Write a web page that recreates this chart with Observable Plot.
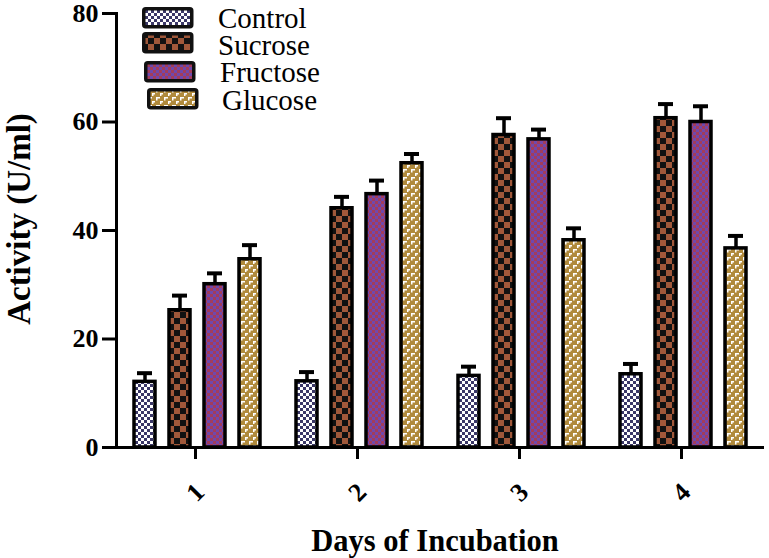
<!DOCTYPE html>
<html>
<head>
<meta charset="utf-8">
<script src="https://cdn.jsdelivr.net/npm/d3@7"></script>
<script src="https://cdn.jsdelivr.net/npm/@observablehq/plot@0.6"></script>
<style>
  html, body { margin: 0; padding: 0; background: #fff; }
  #wrap { position: relative; width: 769px; height: 558px; overflow: hidden; }
</style>
</head>
<body>
<svg width="0" height="0" style="position:absolute">
  <defs>
    <pattern id="pControl" patternUnits="userSpaceOnUse" width="6" height="6">
      <rect width="6" height="6" fill="#ffffff"/>
      <rect x="0" y="0" width="3" height="3" fill="#3b3868"/>
      <rect x="3" y="3" width="3" height="3" fill="#3b3868"/>
    </pattern>
    <pattern id="pSucrose" patternUnits="userSpaceOnUse" width="12" height="12">
      <rect width="12" height="12" fill="#111111"/>
      <rect x="6" y="0" width="6" height="6" fill="#a0583a"/>
      <rect x="0" y="6" width="6" height="6" fill="#a0583a"/>
    </pattern>
    <pattern id="pFructose" patternUnits="userSpaceOnUse" width="6" height="6">
      <rect width="6" height="6" fill="#7048ac"/>
      <rect x="0" y="0" width="3" height="3" fill="#a23c5c"/>
      <rect x="3" y="3" width="3" height="3" fill="#a23c5c"/>
    </pattern>
    <pattern id="pGlucose" patternUnits="userSpaceOnUse" width="8" height="8">
      <rect width="8" height="8" fill="#b08a3c"/>
      <rect x="1" y="1" width="4" height="1.5" fill="#ffffff"/>
      <rect x="1" y="1" width="1.5" height="3.5" fill="#ffffff"/>
      <rect x="5" y="5" width="3" height="1.5" fill="#ffffff"/>
      <rect x="5" y="5" width="1.5" height="3" fill="#ffffff"/>
    </pattern>
  </defs>
</svg>
<div id="wrap"></div>
<script>
const days = ["1", "2", "3", "4"];
const sugars = ["Control", "Sucrose", "Fructose", "Glucose"];
const patterns = ["url(#pControl)", "url(#pSucrose)", "url(#pFructose)", "url(#pGlucose)"];
const controlValues = [12.1, 12.2, 13.2, 13.5];
const controlErrors = [1.6, 1.7, 1.7, 1.9];
const sucroseValues = [25.3, 44.1, 57.6, 60.7];
const sucroseErrors = [2.7, 2.1, 3.1, 2.6];
const fructoseValues = [30.1, 46.7, 56.8, 60.0];
const fructoseErrors = [2.0, 2.5, 1.8, 2.9];
const glucoseValues = [34.7, 52.4, 38.2, 36.7];
const glucoseErrors = [2.6, 1.7, 2.2, 2.3];
const yTicks = [0, 20, 40, 60, 80];

const seriesValues = [controlValues, sucroseValues, fructoseValues, glucoseValues];
const seriesErrors = [controlErrors, sucroseErrors, fructoseErrors, glucoseErrors];
const data = [];
days.forEach((day, i) => {
  sugars.forEach((sugar, j) => {
    const v = seriesValues[j][i], e = seriesErrors[j][i];
    data.push({day, sugar, value: v, hi: v + e});
  });
});

const FONT = "'Liberation Serif', serif";

const chart = Plot.plot({
  width: 769,
  height: 558,
  marginLeft: 116,
  marginRight: 5,
  marginTop: 13,
  marginBottom: 111,
  style: {fontFamily: FONT, fontWeight: "bold", fontSize: "25px", color: "#000", background: "transparent", overflow: "visible"},
  fx: {domain: days, padding: 0, axis: null},
  x: {domain: sugars, paddingInner: 0.4, paddingOuter: 0.514, axis: null},
  y: {domain: [0, 80], axis: null},
  color: {domain: sugars, range: patterns},
  marks: [
    Plot.axisY({ticks: yTicks, tickSize: 14, tickPadding: 4, strokeWidth: 3, label: null, fontSize: 26, fontWeight: "bold"}),
    Plot.axisFx({anchor: "bottom", tickSize: 12, strokeWidth: 3, tickRotate: -45, tickPadding: 33, dx: -2, textAnchor: "middle", lineAnchor: "middle", label: null, fontSize: 26}),
    Plot.frame({anchor: "left", facetAnchor: "left", strokeWidth: 3, stroke: "#000"}),
    Plot.ruleX(data, {fx: "day", x: "sugar", y1: "value", y2: "hi", strokeWidth: 3.5, stroke: "#000"}),
    Plot.tickY(data, {fx: "day", x: "sugar", y: "hi", strokeWidth: 4, stroke: "#000", insetLeft: 3, insetRight: 3}),
    Plot.barY(data, {fx: "day", x: "sugar", y: "value", fill: "sugar", stroke: "#000", strokeWidth: 3.5}),
    Plot.ruleY([0], {strokeWidth: 3, stroke: "#000"})
  ]
});
chart.querySelectorAll("text").forEach(t => t.style.fontFamily = FONT);

const wrap = document.getElementById("wrap");
wrap.appendChild(chart);

function addText(txt, css) {
  const d = document.createElement("div");
  d.textContent = txt;
  d.style.position = "absolute";
  d.style.whiteSpace = "nowrap";
  d.style.fontFamily = FONT;
  Object.assign(d.style, css);
  wrap.appendChild(d);
  return d;
}

addText("Activity (U/ml)", {left: "19px", top: "219px", transform: "translate(-50%, -50%) rotate(-90deg)", fontWeight: "bold", fontSize: "33px", lineHeight: "33px"});
addText("Days of Incubation", {left: "435px", top: "541px", transform: "translate(-50%, -50%)", fontWeight: "bold", fontSize: "30.5px", lineHeight: "30px"});

// legend
const legendRows = [
  {sw: [142, 7], tx: 218, ty: 18},
  {sw: [142, 32], tx: 218, ty: 45},
  {sw: [144, 61], tx: 220, ty: 72},
  {sw: [147, 88], tx: 222, ty: 100}
];
sugars.forEach((s, i) => {
  const r = legendRows[i];
  const sw = document.createElementNS("http://www.w3.org/2000/svg", "svg");
  sw.setAttribute("width", 52);
  sw.setAttribute("height", 22);
  sw.style.position = "absolute";
  sw.style.left = r.sw[0] + "px";
  sw.style.top = r.sw[1] + "px";
  const rect = document.createElementNS("http://www.w3.org/2000/svg", "rect");
  rect.setAttribute("x", 1.75); rect.setAttribute("y", 1.75);
  rect.setAttribute("width", 48); rect.setAttribute("height", 18);
  rect.setAttribute("rx", 2);
  rect.setAttribute("fill", patterns[i]);
  rect.setAttribute("stroke", "#111");
  rect.setAttribute("stroke-width", 3.5);
  sw.appendChild(rect);
  wrap.appendChild(sw);
  addText(s, {left: r.tx + "px", top: r.ty + "px", transform: "translateY(-50%)", fontSize: "29px", lineHeight: "23px"});
});
</script>
</body>
</html>
